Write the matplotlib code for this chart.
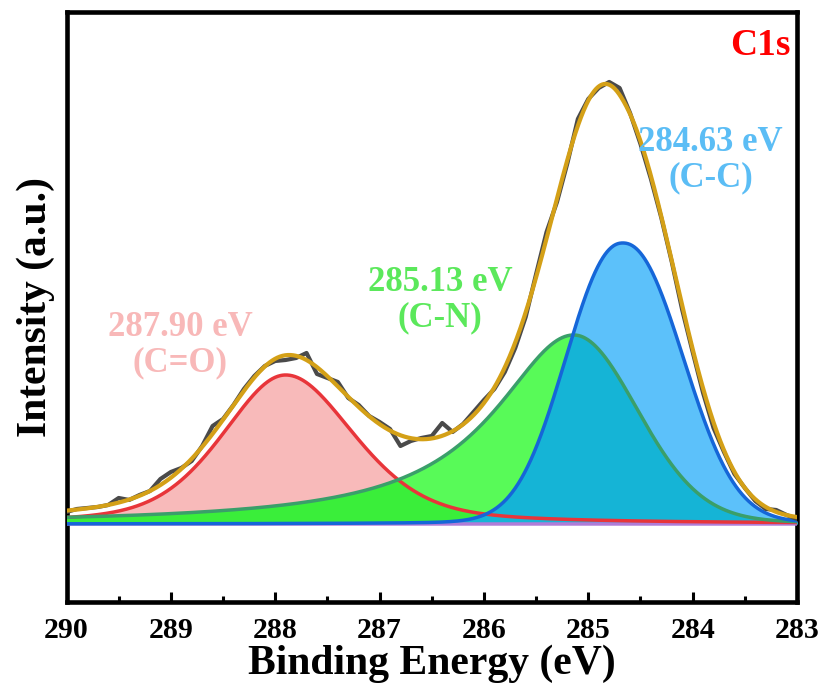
import numpy as np
import matplotlib
matplotlib.use("Agg")
import matplotlib.pyplot as plt

plt.rcParams['font.family'] = ['Liberation Serif', 'DejaVu Serif']
plt.rcParams['font.weight'] = 'bold'

# raw C1s spectrum, 0.1 eV steps from 290.0 down to 283.0 (background removed)
raw_energy = np.linspace(290.0, 283.0, 71)
raw_counts = [12, 15, 16, 17, 19, 26, 24, 29, 33, 45,
              52, 56, 63, 78, 98, 105, 119, 135, 148, 158,
              163, 164, 166, 171, 150, 146, 142, 126, 119, 108,
              102, 95, 78, 83, 86, 88, 101, 92, 100, 112,
              124, 135, 152, 176, 207, 250, 292, 322, 361, 405,
              425, 436, 442, 436, 411, 380, 345, 306, 262, 214,
              172, 131, 96, 72, 50, 36, 23, 15, 14, 9, 5]

# fitted components (C=O, C-N, C-C)
peak_names = ['287.90 eV\n(C=O)', '285.13 eV\n(C-N)', '284.63 eV\n(C-C)']
peak_centers = [287.90, 285.14, 284.67]
peak_heights = [149, 189, 281]
hw_left = [0.72, 0.93, 0.62]
hw_right = [0.78, 0.72, 0.66]
mix_left = [0.40, 1.00, 0.05]
mix_right = [0.40, 0.10, 0.05]
gauss_exp = [2.0, 2.0, 2.2]

# text placement of the peak labels (energy, intensity)
label_pos = [(288.91, 179), (286.42, 224), (283.83, 364)]
label_colors = ['#F8B8B8', '#5BE85B', '#5BBDF5']


def component(x, i):
    # asymmetric pseudo-Voigt, left = high binding energy side
    d = x - peak_centers[i]
    left = d > 0
    r = np.where(left, d / hw_left[i], -d / hw_right[i])
    m = np.where(left, mix_left[i], mix_right[i])
    g = np.exp(-np.log(2) * r ** gauss_exp[i])
    lor = 1.0 / (1.0 + r ** 2)
    return peak_heights[i] * ((1 - m) * g + m * lor)


x = np.linspace(290.0, 283.0, 1401)
red = component(x, 0)
green = component(x, 1)
blue = component(x, 2)
envelope = red + green + blue
base = np.zeros_like(x)

fig = plt.figure(figsize=(8.21, 6.84), dpi=100)
ax = fig.add_axes([0.081, 0.1199, 0.8898, 0.8626])

# fills
ax.fill_between(x, base, red, color='#F8BABA', lw=0, zorder=1)
ax.fill_between(x, base, green, color='#58FA58', lw=0, zorder=2)
ax.fill_between(x, base, np.minimum(red, green), color='#3AEE3A', lw=0, zorder=3)
ax.fill_between(x, base, blue, color='#5CC1FA', lw=0, zorder=4)
ax.fill_between(x, base, np.minimum(blue, green), color='#15B4D6', lw=0, zorder=5)

# outlines
ax.plot(x, base, color='#B07CD8', lw=2.5, zorder=6)
ax.plot(x, red, color='#E8353A', lw=2.5, zorder=7)
ax.plot(x, green, color='#3A9F6A', lw=2.5, zorder=7)
ax.plot(x, blue, color='#1566D8', lw=2.5, zorder=7)
ax.plot(raw_energy, raw_counts, color='#4A4A4A', lw=3, zorder=8)
ax.plot(x, envelope, color='#D4A017', lw=3, zorder=9)

for name, (px, py), c in zip(peak_names, label_pos, label_colors):
    ax.text(px, py, name, color=c, fontsize=25, fontweight='bold',
            ha='center', va='center', linespacing=1.1, zorder=10)

ax.text(283.35, 478, 'C1s', color='red', fontsize=27, fontweight='bold',
        ha='center', va='center', zorder=10)

ax.set_xlim(290, 283)
ax.set_ylim(-78, 512)
ax.set_xticks(np.arange(283, 291, 1))
ax.set_xticks(np.arange(283.5, 290, 1), minor=True)
ax.set_yticks([])
ax.tick_params(axis='x', which='major', direction='in', length=7, width=2.2,
               labelsize=21.5, pad=11, top=False)
ax.tick_params(axis='x', which='minor', direction='in', length=4, width=2.2, top=False)
for lab in ax.get_xticklabels():
    lab.set_fontweight('bold')
for sp in ax.spines.values():
    sp.set_linewidth(3.3)

ax.set_xlabel('Binding Energy (eV)', fontsize=30, fontweight='bold', labelpad=0)
ax.set_ylabel('Intensity (a.u.)', fontsize=30, fontweight='bold', labelpad=8)

fig.savefig('out.png', dpi=100)
